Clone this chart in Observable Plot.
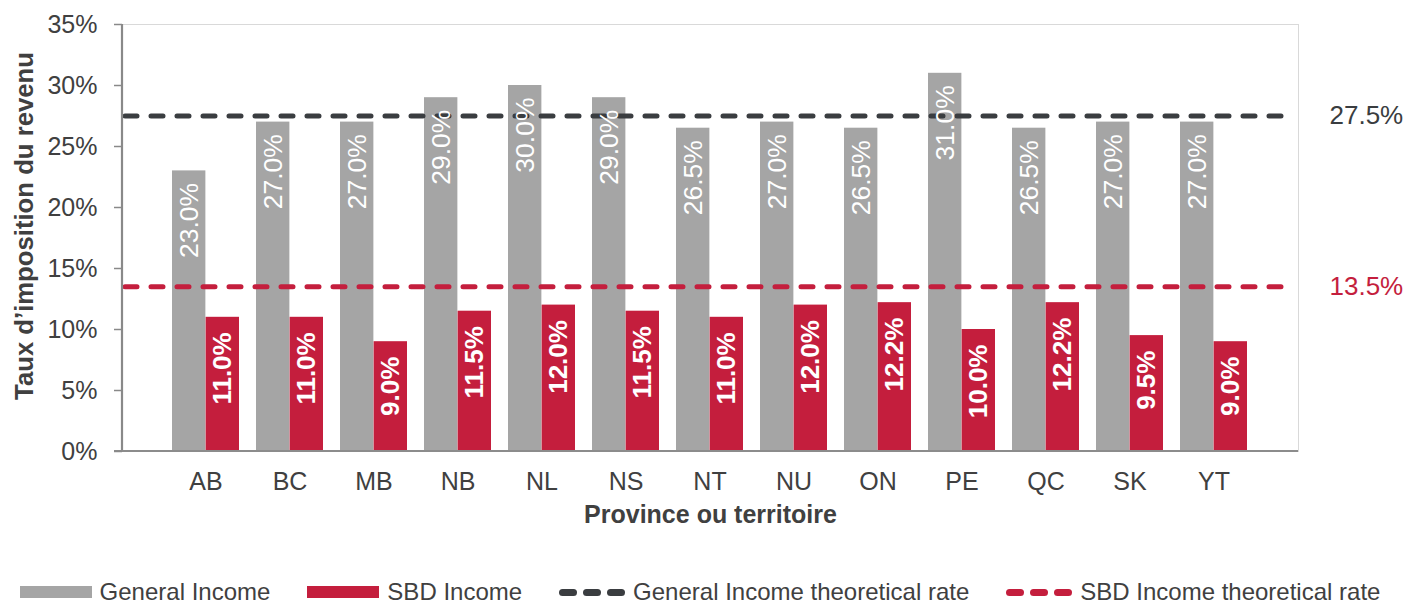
<!DOCTYPE html>
<html>
<head>
<meta charset="utf-8">
<script src="https://cdn.jsdelivr.net/npm/d3@7"></script>
<script src="https://cdn.jsdelivr.net/npm/@observablehq/plot@0.6"></script>
<style>
  body { margin: 0; background: #fff; font-family: "Liberation Sans", Arial, sans-serif; }
  #chart svg { display: block; }
  #legend { display: flex; justify-content: center; align-items: center; gap: 37px;
            font-size: 24px; color: #404040; height: 40px; padding-top: 24px; margin-left: -22px; }
  .item { display: flex; align-items: center; gap: 8px; }
  .sw { width: 72px; height: 12px; }
  .dash { width: 66px; height: 10px; display: flex; justify-content: space-between; }
  .dash span { width: 18px; height: 7px; border-radius: 4px; margin-top: 1.5px; }
</style>
</head>
<body>
<div id="chart"></div>
<div id="legend"></div>
<script>
// ---- data ----
const provinces = ["AB","BC","MB","NB","NL","NS","NT","NU","ON","PE","QC","SK","YT"];
const generalRates = [23.0,27.0,27.0,29.0,30.0,29.0,26.5,27.0,26.5,31.0,26.5,27.0,27.0];
const sbdRates = [11.0,11.0,9.0,11.5,12.0,11.5,11.0,12.0,12.2,10.0,12.2,9.5,9.0];
const theoreticalNames = ["General Income theoretical rate","SBD Income theoretical rate"];
const theoreticalValues = [27.5, 13.5];
const yTicks = [0,5,10,15,20,25,30,35];
const seriesNames = ["General Income","SBD Income"];

// ---- styling ----
const GRAY = "#a5a5a5", RED = "#c41e3d", DARK = "#3a3d40", TEXT = "#404040";
const W = 1422, H = 548;
const mL = 122, mR = 124, mT = 24, mB = 97, inset = 41.5;
const padIn = 0.2, padOut = 0.1;
const step = (W - mL - mR - 2 * inset) / (provinces.length - padIn + 2 * padOut);
const bw = step * (1 - padIn);
const half = bw / 2, quarter = bw / 4;

const rows = provinces.map((p, i) => ({province: p, general: generalRates[i], sbd: sbdRates[i]}));
const thr = theoreticalNames.map((n, i) => ({name: n, value: theoreticalValues[i], color: i === 0 ? DARK : RED}));
const fmt = v => v.toFixed(1) + "%";

const axisLines = (index, scales, values, dimensions) => {
  const {width, height, marginLeft, marginRight, marginTop, marginBottom} = dimensions;
  const g = d3.create("svg:g");
  g.append("line").attr("x1", marginLeft).attr("x2", marginLeft)
    .attr("y1", marginTop).attr("y2", height - marginBottom)
    .attr("stroke", "#898989").attr("stroke-width", 2.2);
  g.append("line").attr("x1", marginLeft - 8).attr("x2", width - marginRight)
    .attr("y1", height - marginBottom).attr("y2", height - marginBottom)
    .attr("stroke", "#8c8c8c").attr("stroke-width", 2.2);
  return g.node();
};

const chart = Plot.plot({
  width: W, height: H,
  marginLeft: mL, marginRight: mR, marginTop: mT, marginBottom: mB,
  style: {fontFamily: '"Liberation Sans", Arial, sans-serif', background: "#fff", color: TEXT},
  x: {domain: provinces, paddingInner: padIn, paddingOuter: padOut, insetLeft: inset, insetRight: inset, axis: null},
  y: {domain: [0, 35], axis: null},
  marks: [
    Plot.frame({stroke: "#d9d9d9", strokeWidth: 1}),
    Plot.barY(rows, {x: "province", y: "general", fill: GRAY, insetRight: half}),
    Plot.barY(rows, {x: "province", y: "sbd", fill: RED, insetLeft: half}),
    Plot.ruleY(thr, {y: "value", stroke: "color", strokeWidth: 5, strokeDasharray: "12,14",
                     strokeLinecap: "round", insetLeft: 3, insetRight: 8}),
    axisLines,
    Plot.axisY({ticks: yTicks, tickFormat: d => d + "%", tickSize: 8, tickPadding: 17,
                fontSize: 25, stroke: "#898989", strokeWidth: 1.5, fill: TEXT, label: null}),
    Plot.axisX({tickSize: 0, tickPadding: 21, fontSize: 25, fill: TEXT, label: null}),
    Plot.text(rows, {x: "province", y: "general", text: d => fmt(d.general), rotate: -90,
                     textAnchor: "end", dx: -quarter, dy: 12, fill: "#fff", fontSize: 26.5}),
    Plot.text(rows, {x: "province", y: "sbd", text: d => fmt(d.sbd), rotate: -90,
                     textAnchor: "end", dx: quarter, dy: 15, fill: "#fff", fontSize: 26, fontWeight: "bold"}),
    Plot.text(thr, {y: "value", text: d => d.value.toFixed(1) + "%", frameAnchor: "right",
                    textAnchor: "start", dx: 31, fill: "color", fontSize: 26}),
    Plot.text(["Taux d’imposition du revenu"], {frameAnchor: "left", rotate: -90, dx: -98, dy: -12,
                    textAnchor: "middle", fontSize: 25.7, fontWeight: "bold", fill: TEXT}),
    Plot.text(["Province ou territoire"], {frameAnchor: "bottom", dy: 71,
                    fontSize: 25, fontWeight: "bold", fill: TEXT})
  ]
});
document.getElementById("chart").appendChild(chart);

// ---- legend ----
const legend = document.getElementById("legend");
const legendItems = [
  {label: seriesNames[0], type: "bar", color: GRAY},
  {label: seriesNames[1], type: "bar", color: RED},
  {label: theoreticalNames[0], type: "dash", color: DARK},
  {label: theoreticalNames[1], type: "dash", color: RED}
];
for (const it of legendItems) {
  const el = document.createElement("div");
  el.className = "item";
  const sw = document.createElement("div");
  if (it.type === "bar") {
    sw.className = "sw"; sw.style.background = it.color;
  } else {
    sw.className = "dash";
    for (let k = 0; k < 3; k++) { const s = document.createElement("span"); s.style.background = it.color; sw.appendChild(s); }
  }
  const t = document.createElement("span");
  t.textContent = it.label;
  el.appendChild(sw); el.appendChild(t);
  legend.appendChild(el);
}
</script>
</body>
</html>
